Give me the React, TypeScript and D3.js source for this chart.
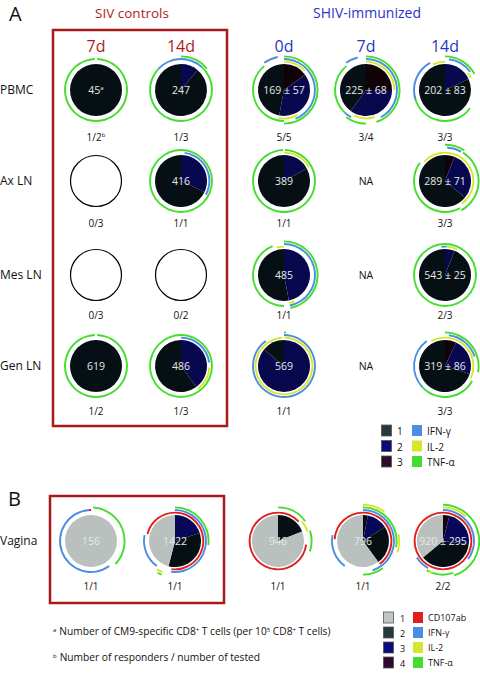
import React from "react";
import * as d3 from "d3";

const W = 480;
const H = 674;
const FONT = "'Open Sans', 'Noto Sans', Arial, sans-serif";

// ---------- data ----------
const rowsA = ["PBMC", "Ax LN", "Mes LN", "Gen LN"];
const sivColumns = ["7d", "14d"];
const shivColumns = ["0d", "7d", "14d"];
const categoryLabelsA = ["1", "2", "3"];
const functionLabelsA = ["IFN-γ", "IL-2", "TNF-α"];
const categoryLabelsB = ["1", "2", "3", "4"];
const functionLabelsB = ["CD107ab", "IFN-γ", "IL-2", "TNF-α"];

type Slice = [number, number]; // [category, fraction]
type FArc = [string, number, number, number]; // [function, start, end, ring]
type PieD = { total: string; sup?: string; resp: string; respSup?: string; slices: Slice[] | null; arcs: FArc[] } | null;

const pbmcPies: PieD[] = [
  { total: "45", sup: "a", resp: "1/2", respSup: "b", slices: [[1, 1]], arcs: [["TNF", 0.006, 0.994, 1]] },
  { total: "247", resp: "1/3", slices: [[2, 0.11], [1, 0.89]], arcs: [["IFN", 0.87, 0.12, 1], ["TNF", 0.0, 0.14, 2], ["TNF", 0.12, 0.87, 1]] },
  { total: "169 ± 57", resp: "5/5", slices: [[3, 0.15], [2, 0.38], [1, 0.47]], arcs: [["IL2", 0.0, 0.13, 0], ["IFN", 0.0, 0.44, 1], ["TNF", 0.0, 0.5, 2], ["IL2", 0.42, 0.53, 0], ["TNF", 0.5, 0.89, 1], ["IFN", 0.9, 0.97, 2]] },
  { total: "225 ± 68", resp: "3/4", slices: [[3, 0.25], [2, 0.35], [1, 0.4]], arcs: [["IL2", 0.0, 0.25, 0], ["IFN", 0.0, 0.42, 1], ["TNF", 0.0, 0.45, 2], ["IL2", 0.45, 0.57, 0], ["IFN", 0.58, 0.62, 1], ["TNF", 0.5, 0.6, 2], ["TNF", 0.62, 0.89, 1], ["IFN", 0.9, 0.96, 2]] },
  { total: "202 ± 83", resp: "3/3", slices: [[2, 0.18], [1, 0.82]], arcs: [["IL2", 0.93, 1.0, 0], ["IFN", 0.02, 0.15, 1], ["TNF", 0.0, 0.17, 2], ["IL2", 0.15, 0.18, 0], ["TNF", 0.35, 0.72, 1], ["IFN", 0.7, 0.92, 1]] },
];
const axPies: PieD[] = [
  { total: "", resp: "0/3", slices: null, arcs: [] },
  { total: "416", resp: "1/1", slices: [[2, 0.32], [1, 0.68]], arcs: [["TNF", 0.0, 1.0, 1], ["IFN", 0.02, 0.33, 0]] },
  { total: "389", resp: "1/1", slices: [[2, 0.17], [1, 0.83]], arcs: [["IL2", 0.0, 0.17, 0], ["TNF", 0.005, 0.995, 1]] },
  null,
  { total: "289 ± 71", resp: "3/3", slices: [[3, 0.06], [2, 0.3], [1, 0.64]], arcs: [["IL2", 0.87, 0.4, 0], ["IFN", 0.01, 0.08, 2], ["TNF", 0.0, 0.09, 3], ["TNF", 0.09, 0.42, 2], ["TNF", 0.42, 0.85, 1]] },
];
const mesPies: PieD[] = [
  { total: "", resp: "0/3", slices: null, arcs: [] },
  { total: "", resp: "0/2", slices: null, arcs: [] },
  { total: "485", resp: "1/1", slices: [[2, 0.47], [1, 0.53]], arcs: [["IL2", 0.96, 1.0, 0], ["IFN", 0.0, 0.47, 1], ["TNF", 0.0, 0.47, 2], ["IL2", 0.44, 0.47, 0], ["TNF", 0.5, 0.94, 1]] },
  null,
  { total: "543 ± 25", resp: "2/3", slices: [[2, 0.06], [1, 0.94]], arcs: [["IFN", 0.98, 0.01, 0], ["IL2", 0.01, 0.07, 0], ["TNF", 0.0, 1.0, 1]] },
];
const genPies: PieD[] = [
  { total: "619", resp: "1/2", slices: [[1, 1]], arcs: [["TNF", 0.006, 0.994, 1]] },
  { total: "486", resp: "1/3", slices: [[2, 0.4], [1, 0.6]], arcs: [["IFN", 0.0, 0.23, 0], ["IL2", 0.26, 0.4, 0], ["TNF", 0.0, 1.0, 1]] },
  { total: "569", resp: "1/1", slices: [[2, 0.86], [1, 0.14]], arcs: [["IL2", 0.0, 0.99, 0], ["IFN", 0.0, 0.9, 1], ["TNF", 0.0, 0.01, 2]] },
  null,
  { total: "319 ± 86", resp: "3/3", slices: [[3, 0.07], [2, 0.23], [1, 0.7]], arcs: [["IL2", 0.92, 0.32, 0], ["IFN", 0.02, 0.2, 1], ["TNF", 0.0, 0.28, 2], ["TNF", 0.33, 0.63, 1], ["IFN", 0.63, 0.9, 1]] },
];
const vaginaPies: PieD[] = [
  { total: "156", resp: "1/1", slices: [[1, 1]], arcs: [["IFN", 0.4, 0.99, 1], ["CD107", 0.99, 1.0, 1], ["TNF", 0.01, 0.37, 2]] },
  { total: "1422", resp: "1/1", slices: [[3, 0.2], [2, 0.34], [1, 0.46]], arcs: [["CD107", 0.0, 0.52, 0], ["IFN", 0.0, 0.52, 1], ["TNF", 0.0, 0.27, 2], ["IFN", 0.6, 0.78, 1], ["CD107", 0.79, 1.0, 0], ["IL2", 0.56, 0.59, 2], ["TNF", 0.56, 0.58, 3]] },
  { total: "946", resp: "1/1", slices: [[2, 0.19], [1, 0.81]], arcs: [["CD107", 0.0, 0.13, 0], ["CD107", 0.27, 1.0, 0], ["IL2", 0.14, 0.2, 1], ["TNF", 0.0, 0.15, 2], ["TNF", 0.2, 0.3, 2]] },
  { total: "796", resp: "1/1", slices: [[4, 0.03], [3, 0.13], [2, 0.24], [1, 0.6]], arcs: [["CD107", 0.0, 0.4, 0], ["CD107", 0.76, 1.0, 0], ["IFN", 0.0, 0.45, 1], ["IFN", 0.6, 0.78, 1], ["TNF", 0.0, 0.28, 2], ["IL2", 0.0, 0.1, 3], ["IL2", 0.22, 0.3, 3], ["TNF", 0.4, 0.5, 2]] },
  { total: "920 ± 295", resp: "2/2", slices: [[4, 0.04], [3, 0.23], [2, 0.37], [1, 0.36]], arcs: [["CD107", 0.0, 1.0, 0], ["IFN", 0.0, 0.35, 1], ["IL2", 0.0, 0.12, 2], ["TNF", 0.0, 0.45, 3], ["IFN", 0.58, 0.66, 1], ["TNF", 0.45, 0.58, 2], ["IL2", 0.55, 0.57, 2]] },
];

// ---------- style / layout ----------
const catColorA: Record<number, string> = { 1: "#061014", 2: "#08084f", 3: "#100308" };
const catColorB: Record<number, string> = { 1: "#b9c0bd", 2: "#061014", 3: "#08085a", 4: "#140412" };
const legendCatA = ["#27393b", "#0b0b7a", "#2c0b2c"];
const legendCatB = ["#c0c6c4", "#27393b", "#0b0b80", "#2c0b2c"];
const fnColor: Record<string, string> = { IFN: "#4a8de3", IL2: "#d6e62c", TNF: "#44dd2e", CD107: "#e01e1e" };
const legendFnA = [fnColor.IFN, fnColor.IL2, fnColor.TNF];
const legendFnB = [fnColor.CD107, fnColor.IFN, fnColor.IL2, fnColor.TNF];

const colX = [96, 181, 284, 366, 445];
const colXB = [91, 175, 278, 363, 443];
const rowY = [90, 181, 275, 366];
const respY = [141, 227, 319, 415];
const PIE_R = 26;
const ringR = (k: number) => 28.4 + k * 2.6;
const TAU = Math.PI * 2;

const pieGen = d3.pie<Slice>().sort(null).value((d) => d[1]);
const sliceArc = d3.arc<d3.PieArcDatum<Slice>>().innerRadius(0).outerRadius(PIE_R);

function fnPath(a: FArc) {
  const [, s, e0, ring] = a;
  const e = e0 <= s ? e0 + 1 : e0;
  const r = ringR(ring);
  return d3.arc()({ innerRadius: r - 0.95, outerRadius: r + 0.95, startAngle: s * TAU, endAngle: e * TAU }) || "";
}

function Pie({ d, x, y, ry, colors }: { d: PieD; x: number; y: number; ry: number; colors: Record<number, string> }) {
  if (d === null) {
    return (
      <text x={x} y={y + 4} textAnchor="middle" fontSize={10.5} fill="#111">NA</text>
    );
  }
  return (
    <g>
      <g transform={`translate(${x},${y})`}>
        {d.slices === null ? (
          <circle r={25.5} fill="none" stroke="#000" strokeWidth={1.2} />
        ) : (
          <>
            {pieGen(d.slices).map((s, i) => (
              <path key={i} d={sliceArc(s) || ""} fill={colors[s.data[0]]} />
            ))}
            {d.arcs.map((a, i) => (
              <path key={"a" + i} d={fnPath(a)} fill={fnColor[a[0]]} />
            ))}
            <text y={4} textAnchor="middle" fontSize={10.5} fill="#e6e8e8">
              {d.total}
              {d.sup && <tspan fontSize={6} dy={-4}>{d.sup}</tspan>}
            </text>
          </>
        )}
      </g>
      <text x={x} y={ry} textAnchor="middle" fontSize={10} fill="#111">
        {d.resp}
        {d.respSup && <tspan fontSize={6} dy={-4}>{d.respSup}</tspan>}
      </text>
    </g>
  );
}

export default function App() {
  const rowsData = [pbmcPies, axPies, mesPies, genPies];
  return (
    <svg width={W} height={H} style={{ position: "absolute", left: 0, top: 0, background: "#fff" }} fontFamily={FONT}>
      {/* Panel A */}
      <text x={9} y={21} fontSize={20} fill="#111">A</text>
      <text x={132} y={18} textAnchor="middle" fontSize={13.5} fill="#b01c1c">SIV controls</text>
      <text x={367} y={18} textAnchor="middle" fontSize={14} fill="#2a35c8">SHIV-immunized</text>
      <rect x={53} y={30} width={174} height={396} fill="none" stroke="#a81a1a" strokeWidth={2.5} />
      {sivColumns.map((c, i) => (
        <text key={"sc" + i} x={colX[i]} y={52} textAnchor="middle" fontSize={16} fill="#b01c1c">{c}</text>
      ))}
      {shivColumns.map((c, i) => (
        <text key={"hc" + i} x={colX[i + 2]} y={52} textAnchor="middle" fontSize={16} fill="#2a35c8">{c}</text>
      ))}
      {rowsA.map((r, i) => (
        <text key={"r" + i} x={0} y={rowY[i] + 4} fontSize={12} fill="#111">{r}</text>
      ))}
      {rowsData.map((row, ri) =>
        row.map((p, ci) => (
          <Pie key={ri + "-" + ci} d={p} x={colX[ci]} y={rowY[ri]} ry={respY[ri]} colors={catColorA} />
        ))
      )}
      {/* Legend A */}
      {categoryLabelsA.map((c, i) => (
        <g key={"la" + i}>
          <rect x={381.5} y={425 + i * 15.5} width={10} height={11} fill={legendCatA[i]} stroke="#555" strokeWidth={0.8} />
          <text x={397} y={435 + i * 15.5} fontSize={10} fill="#111">{c}</text>
          <rect x={412} y={425 + i * 15.5} width={10} height={11} fill={legendFnA[i]} />
          <text x={427} y={435 + i * 15.5} fontSize={10} fill="#111">{functionLabelsA[i]}</text>
        </g>
      ))}

      {/* Panel B */}
      <text x={8} y={506} fontSize={20} fill="#111">B</text>
      <rect x={50} y={496} width={174} height={107} fill="none" stroke="#a81a1a" strokeWidth={2.5} />
      <text x={0} y={545} fontSize={12} fill="#111">Vagina</text>
      {vaginaPies.map((p, ci) => (
        <Pie key={"v" + ci} d={p} x={colXB[ci]} y={541} ry={590} colors={catColorB} />
      ))}
      {/* Legend B */}
      {categoryLabelsB.map((c, i) => (
        <g key={"lb" + i}>
          <rect x={383.5} y={612 + i * 15} width={10} height={11} fill={legendCatB[i]} stroke="#555" strokeWidth={0.8} />
          <text x={400} y={622 + i * 15} fontSize={9} fill="#111">{c}</text>
          <rect x={413} y={612 + i * 15} width={10} height={11} fill={legendFnB[i]} />
          <text x={428} y={621 + i * 15} fontSize={9} fill="#111">{functionLabelsB[i]}</text>
        </g>
      ))}
      {/* Footnotes */}
      <text x={53} y={635} fontSize={10.2} fill="#111">
        <tspan fontSize={6} dy={-3}>a</tspan>
        <tspan dy={3} dx={3}>Number of CM9-specific CD8</tspan>
        <tspan fontSize={6} dy={-3}>+</tspan>
        <tspan dy={3}> T cells (per 10</tspan>
        <tspan fontSize={6} dy={-3}>5</tspan>
        <tspan dy={3}> CD8</tspan>
        <tspan fontSize={6} dy={-3}>+</tspan>
        <tspan dy={3}> T cells)</tspan>
      </text>
      <text x={53} y={661} fontSize={10.2} fill="#111">
        <tspan fontSize={6} dy={-3}>b</tspan>
        <tspan dy={3} dx={3}>Number of responders / number of tested</tspan>
      </text>
    </svg>
  );
}
